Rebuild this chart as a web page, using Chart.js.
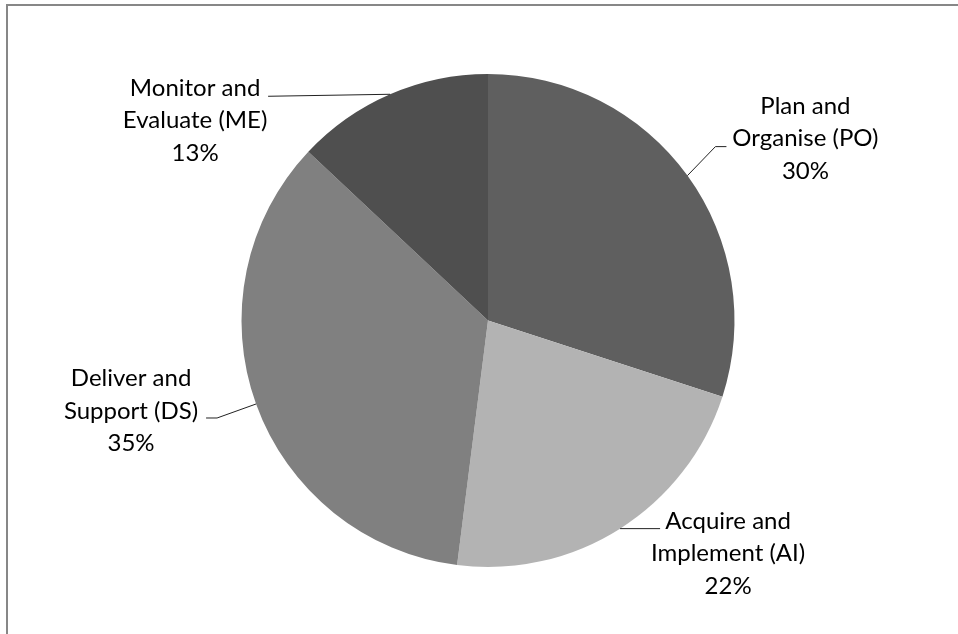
<!DOCTYPE html>
<html>
<head>
<meta charset="utf-8">
<title>COBIT domains</title>
<script src="https://cdn.jsdelivr.net/npm/chart.js@4"></script>
<style>
html, body { margin: 0; padding: 0; background: #fff; }
#wrap { position: relative; width: 958px; height: 634px; }
</style>
</head>
<body>
<div id="wrap"><canvas id="pie" width="958" height="634"></canvas></div>
<script>
// domains, clockwise from 12 o'clock
const categories = [
    ['Plan and', 'Organise (PO)'],
    ['Acquire and', 'Implement (AI)'],
    ['Deliver and', 'Support (DS)'],
    ['Monitor and', 'Evaluate (ME)']
];
const shares = [30, 22, 35, 13];
const sliceColors = ['#5f5f5f', '#b3b3b3', '#808080', '#4f4f4f'];

// leader line: bend & end relative to slice edge point, text relative to end of line
const leaders = [
    { bend: [28, -29], end: [39, -29], text: [79, -8] },
    { bend: [0, 0], end: [40, 0], text: [68, 25] },
    { bend: [-39, 14], end: [-50, 14], text: [-75, -7] },
    { bend: [0, 0], end: [-122, 2], text: [-73, 24] }
];

const frame = {
    id: 'frame',
    beforeDraw(chart) {
        const c = chart.ctx;
        c.save();
        c.fillStyle = '#fff';
        c.fillRect(0, 0, chart.width, chart.height);
        c.fillStyle = '#878787';
        c.fillRect(6, 4, chart.width - 6, 2);
        c.fillRect(6, 4, 2, chart.height - 4);
        c.restore();
    }
};

const sliceLabels = {
    id: 'sliceLabels',
    afterDatasetsDraw(chart) {
        const c = chart.ctx;
        const meta = chart.getDatasetMeta(0);
        const total = shares.reduce((a, b) => a + b, 0);
        c.save();
        c.font = '24px Lato';
        c.textAlign = 'center';
        c.textBaseline = 'middle';
        meta.data.forEach((arc, i) => {
            const p = arc.getProps(['x', 'y', 'startAngle', 'endAngle', 'outerRadius'], true);
            const mid = (p.startAngle + p.endAngle) / 2;
            const ax = p.x + Math.cos(mid) * p.outerRadius;
            const ay = p.y + Math.sin(mid) * p.outerRadius;
            const l = leaders[i];
            const ex = ax + l.end[0], ey = ay + l.end[1];

            c.strokeStyle = '#222';
            c.lineWidth = 1;
            c.beginPath();
            c.moveTo(ax, ay);
            c.lineTo(ax + l.bend[0], ay + l.bend[1]);
            c.lineTo(ex, ey);
            c.stroke();

            const tx = ex + l.text[0];
            const ty = ey + l.text[1];
            const lh = 32.5;
            const pct = Math.round(shares[i] / total * 100) + '%';
            c.fillStyle = '#000';
            c.fillText(categories[i][0], tx, ty - lh);
            c.fillText(categories[i][1], tx, ty);
            c.fillText(pct, tx, ty + lh);
        });
        c.restore();
    }
};

new Chart(document.getElementById('pie').getContext('2d'), {
    type: 'pie',
    data: {
        labels: categories.map(c => c.join(' ')),
        datasets: [{
            data: shares,
            backgroundColor: sliceColors,
            borderWidth: 0
        }]
    },
    options: {
        responsive: false,
        animation: false,
        layout: { padding: { top: 74, bottom: 67, left: 18, right: 0 } },
        plugins: {
            legend: { display: false },
            tooltip: { enabled: false }
        }
    },
    plugins: [frame, sliceLabels]
});
</script>
</body>
</html>
